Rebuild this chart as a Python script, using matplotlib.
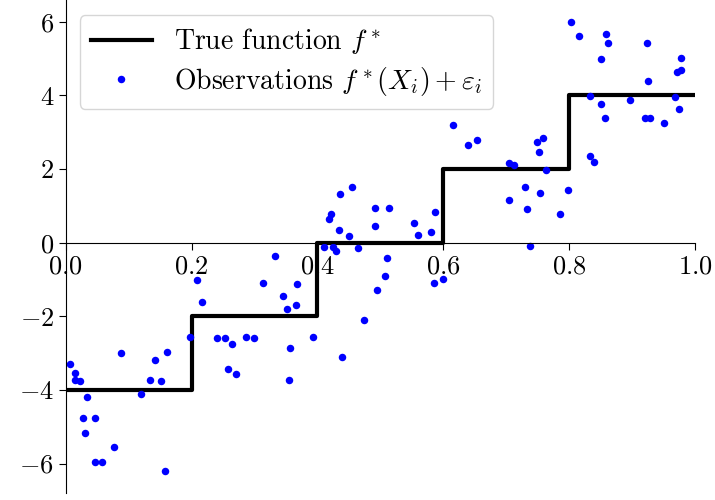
import matplotlib
matplotlib.use("Agg")
import matplotlib.pyplot as plt

plt.rcParams["font.family"] = "serif"
plt.rcParams["font.serif"] = ["cmr10"]
plt.rcParams["mathtext.fontset"] = "cm"
plt.rcParams["axes.formatter.use_mathtext"] = True

# step function f*
step_x = [0.0, 0.2, 0.4, 0.6, 0.8, 1.0]
step_y = [-4, -2, 0, 2, 4, 4]

# noisy observations
obs_x = [0.006, 0.0145, 0.0145, 0.022, 0.033, 0.028, 0.047, 0.030, 0.046, 0.058,
         0.076, 0.088, 0.120, 0.134, 0.142, 0.152, 0.161, 0.157, 0.198, 0.209,
         0.217, 0.240, 0.253, 0.264, 0.258, 0.270, 0.287, 0.299, 0.314, 0.333,
         0.346, 0.352, 0.366, 0.368, 0.356, 0.355, 0.393, 0.410, 0.424, 0.430,
         0.419, 0.421, 0.434, 0.436, 0.450, 0.455, 0.464, 0.439, 0.474, 0.491,
         0.491, 0.514, 0.511, 0.507, 0.494, 0.554, 0.560, 0.581, 0.587, 0.585,
         0.600, 0.615, 0.640, 0.653, 0.704, 0.712, 0.705, 0.730, 0.733, 0.737,
         0.749, 0.752, 0.759, 0.753, 0.763, 0.785, 0.798, 0.803, 0.815, 0.833,
         0.833, 0.840, 0.851, 0.857, 0.851, 0.859, 0.862, 0.896, 0.920, 0.928,
         0.924, 0.925, 0.950, 0.969, 0.974, 0.972, 0.977, 0.978]
obs_y = [-3.30, -3.53, -3.72, -3.75, -4.18, -4.77, -4.75, -5.16, -5.97, -5.95,
         -5.55, -3.00, -4.11, -3.72, -3.20, -3.77, -2.96, -6.19, -2.56, -1.02,
         -1.61, -2.59, -2.60, -2.76, -3.44, -3.56, -2.57, -2.60, -1.10, -0.35,
         -1.46, -1.81, -1.68, -1.11, -2.86, -3.73, -2.57, -0.11, -0.13, -0.23,
         0.64, 0.78, 0.34, 1.32, 0.17, 1.52, -0.14, -3.11, -2.11, 0.46,
         0.94, 0.94, -0.43, -0.90, -1.28, 0.53, 0.21, 0.30, 0.84, -1.10,
         -0.98, 3.20, 2.66, 2.78, 2.17, 2.11, 1.15, 1.50, 0.91, -0.09,
         2.72, 2.46, 2.83, 1.36, 1.98, 0.78, 1.44, 5.98, 5.60, 3.99,
         2.34, 2.19, 3.76, 3.38, 4.99, 5.66, 5.41, 3.88, 3.39, 3.38,
         5.42, 4.39, 3.26, 3.95, 3.63, 4.64, 4.69, 5.02]

fig = plt.figure(figsize=(7.15, 5.0), dpi=100)
ax = fig.add_axes([0.092, 0.014, 0.880, 0.986])

ax.step(step_x, step_y, where="post", color="black", linewidth=3,
        label=r"True function $f^*$")
ax.plot(obs_x, obs_y, "o", color="blue", markersize=5.4, markeredgewidth=0,
        linestyle="none", label=r"Observations $f^*(X_i) + \varepsilon_i$")

ax.set_xlim(0, 1)
ax.spines["left"].set_position(("data", 0))
ax.spines["bottom"].set_position(("data", 0))
ax.spines["top"].set_visible(False)
ax.spines["right"].set_visible(False)
ax.set_xticks([0, 0.2, 0.4, 0.6, 0.8, 1.0])
ax.set_yticks([-6, -4, -2, 0, 2, 4, 6])
ax.tick_params(labelsize=19, length=5)

ax.legend(loc="upper left", fontsize=20, handlelength=2.2, labelspacing=0.3,
          bbox_to_anchor=(0.0, 0.997))

fig.savefig("out.png", dpi=100)
